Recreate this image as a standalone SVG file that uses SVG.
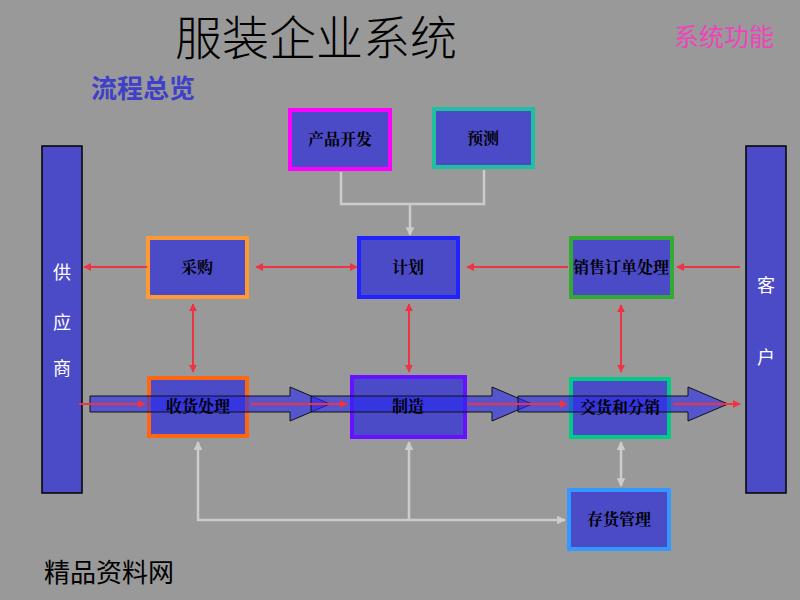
<svg xmlns="http://www.w3.org/2000/svg" width="800" height="600" viewBox="0 0 800 600">
<defs>
<marker id="ra" viewBox="0 0 10 10" refX="9" refY="5" markerWidth="4" markerHeight="4" orient="auto-start-reverse"><path d="M0,0 L10,5 L0,10 z" fill="#ee3344"/></marker>
<marker id="ga" viewBox="0 0 10 10" refX="9" refY="5" markerWidth="3.5" markerHeight="3.5" orient="auto-start-reverse"><path d="M0,0 L10,5 L0,10 z" fill="#cccccc"/></marker>
<style>
.box{fill:#4b4bc8;stroke-width:4}
.lbl{font-family:"Noto Serif CJK SC","Noto Sans CJK SC",serif;font-weight:bold;font-size:16px;fill:#000;text-anchor:middle}
.side{fill:#4b4bc8;stroke:#000;stroke-width:1.5}
.stxt{font-family:"Noto Sans CJK SC",sans-serif;font-size:18px;fill:#fff;text-anchor:middle}
.red{stroke:#ee3344;stroke-width:2;fill:none}
.gray{stroke:#cccccc;stroke-width:2.5;fill:none}
.flow{fill:rgba(40,40,240,0.6);stroke:#111;stroke-width:1}
</style>
</defs>
<rect width="800" height="600" fill="#999999"/>
<text x="316" y="55" font-family="Noto Sans CJK SC,sans-serif" font-weight="300" font-size="47" text-anchor="middle" fill="#000">服装企业系统</text>
<text x="724" y="46" font-family="Noto Sans CJK SC,sans-serif" font-size="25" text-anchor="middle" fill="#ee44bb">系统功能</text>
<text x="143" y="98" font-family="Noto Sans CJK SC,sans-serif" font-weight="bold" font-size="26" text-anchor="middle" fill="#3f3fc8">流程总览</text>
<text x="109" y="582" font-family="Noto Sans CJK SC,sans-serif" font-size="26" text-anchor="middle" fill="#000">精品资料网</text>

<g id="supplier"><rect class="side" x="42" y="146" width="40" height="347"/><text class="stxt" x="62" y="279">供</text><text class="stxt" x="62" y="329">应</text><text class="stxt" x="62" y="375">商</text></g>
<g id="customer"><rect class="side" x="746" y="146" width="40" height="347"/><text class="stxt" x="766" y="292">客</text><text class="stxt" x="766" y="364">户</text></g>

<g id="n-dev"><rect class="box" x="290" y="110" width="100" height="59" stroke="#ff00ff"/></g>
<g id="n-forecast"><rect class="box" x="434" y="109" width="99" height="58" stroke="#1fc0a0"/></g>
<g id="n-plan"><rect class="box" x="359" y="238" width="99" height="59" stroke="#2222ff"/></g>
<g id="n-purchase"><rect class="box" x="148" y="238" width="99" height="59" stroke="#ff9933"/></g>
<g id="n-sales"><rect class="box" x="571" y="238" width="101" height="59" stroke="#33aa33"/></g>
<g id="n-receive"><rect class="box" x="149" y="378" width="98" height="58" stroke="#ff6611"/></g>
<g id="n-make"><rect class="box" x="352" y="377" width="113" height="60" stroke="#6611ff"/></g>
<g id="n-deliver"><rect class="box" x="571" y="379" width="98" height="58" stroke="#00cc88"/></g>
<g id="n-stock"><rect class="box" x="569" y="490" width="100" height="59" stroke="#3399ff"/></g>

<g id="connectors">
<path class="flow" d="M90,396 H290 V387 L330,404 L290,421 V412 H90 Z"/>
<path class="flow" d="M311,396 H492 V387 L532,404 L492,421 V412 H311 Z"/>
<path class="flow" d="M518,396 H688 V387 L728,404 L688,421 V412 H518 Z"/>
<line class="red" x1="79" y1="404" x2="145" y2="404" marker-end="url(#ra)"/>
<line class="red" x1="251" y1="404" x2="347" y2="404" marker-end="url(#ra)"/>
<line class="red" x1="467" y1="404" x2="567" y2="404" marker-end="url(#ra)"/>
<line class="red" x1="673" y1="404" x2="740" y2="404" marker-end="url(#ra)"/>
<line class="red" x1="147" y1="267" x2="84" y2="267" marker-end="url(#ra)"/>
<line class="red" x1="256" y1="267" x2="357" y2="267" marker-start="url(#ra)" marker-end="url(#ra)"/>
<line class="red" x1="568" y1="267" x2="467" y2="267" marker-end="url(#ra)"/>
<line class="red" x1="740" y1="267" x2="677" y2="267" marker-end="url(#ra)"/>
<line class="red" x1="193" y1="304" x2="193" y2="372" marker-start="url(#ra)" marker-end="url(#ra)"/>
<line class="red" x1="409" y1="304" x2="409" y2="372" marker-start="url(#ra)" marker-end="url(#ra)"/>
<line class="red" x1="621" y1="305" x2="621" y2="372" marker-start="url(#ra)" marker-end="url(#ra)"/>
<path class="gray" d="M341,172 V204 H484 V170"/>
<line class="gray" x1="410" y1="204" x2="410" y2="235" marker-end="url(#ga)"/>
<path class="gray" d="M198,442 V520 H565" marker-start="url(#ga)" marker-end="url(#ga)"/>
<line class="gray" x1="409" y1="520" x2="409" y2="442" marker-end="url(#ga)"/>
<line class="gray" x1="621" y1="442" x2="621" y2="486" marker-start="url(#ga)" marker-end="url(#ga)"/>
</g>

<g id="labels">
<text class="lbl" x="340" y="145">产品开发</text>
<text class="lbl" x="483" y="144">预测</text>
<text class="lbl" x="408" y="273">计划</text>
<text class="lbl" x="197" y="273">采购</text>
<text class="lbl" x="621" y="273">销售订单处理</text>
<text class="lbl" x="198" y="412">收货处理</text>
<text class="lbl" x="408" y="412">制造</text>
<text class="lbl" x="620" y="413">交货和分销</text>
<text class="lbl" x="619" y="525">存货管理</text>
</g>
</svg>
